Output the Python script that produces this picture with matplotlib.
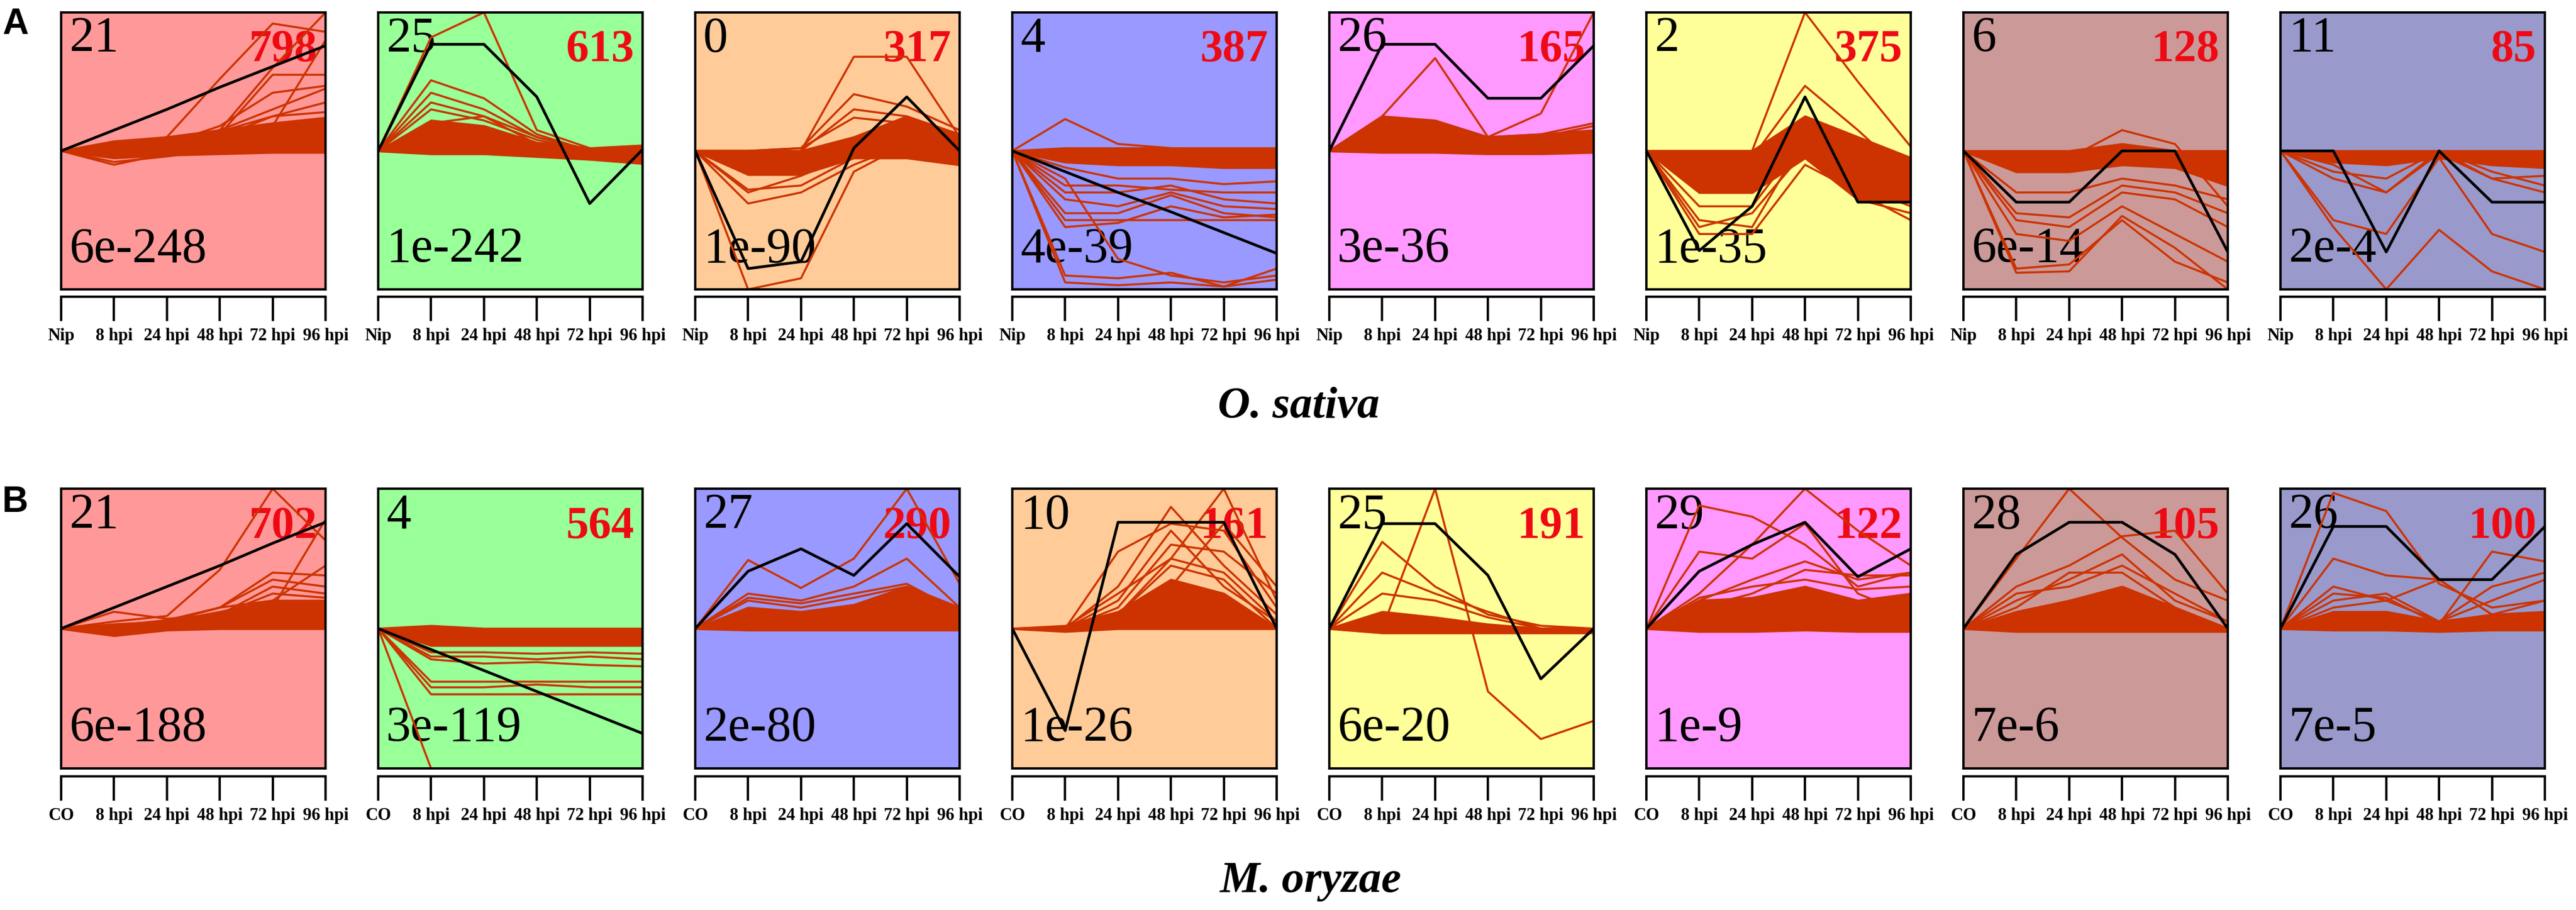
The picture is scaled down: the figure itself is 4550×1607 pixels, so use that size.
import matplotlib
matplotlib.use('Agg')
import matplotlib.pyplot as plt

plt.rcParams['font.family'] = ['Liberation Serif', 'DejaVu Serif']

# x axis time points
times_a = ['Nip', '8 hpi', '24 hpi', '48 hpi', '72 hpi', '96 hpi']
times_b = ['CO', '8 hpi', '24 hpi', '48 hpi', '72 hpi', '96 hpi']

# ---- row A: O. sativa profiles ----
a_ids = ['21', '25', '0', '4', '26', '2', '6', '11']
a_counts = ['798', '613', '317', '387', '165', '375', '128', '85']
a_pvals = ['6e-248', '1e-242', '1e-90', '4e-39', '3e-36', '1e-35', '6e-14', '2e-4']
a_colors = ['#ff9999', '#99ff99', '#ffcc99', '#9999ff', '#ff99ff', '#ffff99', '#cc9999', '#9999cc']

# model profiles (black lines)
a_models = [
    [0, 0.15, 0.30, 0.46, 0.61, 0.76],
    [0, 0.77, 0.77, 0.39, -0.38, 0.01],
    [0, -0.85, -0.80, 0.02, 0.39, 0.0],
    [0, -0.15, -0.30, -0.44, -0.59, -0.74],
    [0, 0.77, 0.77, 0.38, 0.38, 0.76],
    [0, -0.72, -0.40, 0.39, -0.37, -0.37],
    [0, -0.37, -0.37, 0.0, 0.0, -0.73],
    [0, 0.0, -0.73, 0.0, -0.37, -0.37],
]

# envelope of the dense bundle of gene lines
a_band_hi = [
    [0, 0.07, 0.10, 0.15, 0.20, 0.24],
    [0, 0.22, 0.18, 0.06, 0.02, 0.04],
    [0, 0.0, 0.0, 0.10, 0.25, 0.12],
    [0, 0.02, 0.02, 0.02, 0.02, 0.02],
    [0, 0.25, 0.22, 0.10, 0.12, 0.15],
    [0, 0.0, 0.0, 0.25, 0.10, -0.05],
    [0, 0.0, 0.0, 0.05, 0.0, 0.0],
    [0, 0.0, 0.0, 0.0, 0.0, 0.0],
]
a_band_lo = [
    [0, -0.05, -0.03, -0.02, -0.01, -0.01],
    [0, -0.02, -0.02, -0.04, -0.06, -0.09],
    [0, -0.17, -0.17, -0.05, -0.05, -0.10],
    [0, -0.08, -0.10, -0.10, -0.12, -0.12],
    [0, -0.01, -0.01, -0.02, -0.02, -0.01],
    [0, -0.30, -0.30, -0.05, -0.35, -0.37],
    [0, -0.15, -0.15, -0.10, -0.12, -0.25],
    [0, -0.08, -0.10, -0.05, -0.10, -0.12],
]

# individual gene lines (orange)
a1_genes = [
    [0, -0.10, -0.02, 0.0, 0.02, 0.05],
    [0, 0.02, 0.10, 0.52, 0.92, 0.86],
    [0, 0.03, 0.08, 0.15, 0.60, 1.0],
    [0, 0.03, 0.06, 0.12, 0.55, 0.55],
    [0, 0.02, 0.05, 0.18, 0.42, 0.47],
    [0, 0.03, 0.07, 0.15, 0.30, 0.45],
    [0, 0.02, 0.05, 0.10, 0.25, 0.35],
    [0, 0.01, 0.04, 0.14, 0.25, 0.28],
    [0, 0.02, 0.06, 0.10, 0.18, 0.80],
    [0, -0.08, -0.04, 0.01, 0.03, 0.06],
]
a2_genes = [
    [0, 0.82, 1.0, 0.15, 0.02, 0.0],
    [0, 0.51, 0.38, 0.12, 0.0, -0.02],
    [0, 0.35, 0.25, 0.10, 0.0, -0.03],
    [0, 0.30, 0.22, 0.08, 0.0, -0.04],
    [0, 0.42, 0.30, 0.10, 0.01, -0.02],
    [0, 0.20, 0.25, 0.05, -0.02, -0.05],
]
a3_genes = [
    [0, -1.0, -0.92, -0.15, 0.05, 0.02],
    [0, -0.38, -0.30, -0.10, 0.05, 0.05],
    [0, -0.28, -0.25, -0.05, 0.10, 0.08],
    [0, -0.30, -0.18, -0.02, 0.08, 0.10],
    [0, 0.0, 0.0, 0.68, 0.68, 0.10],
    [0, 0.0, 0.02, 0.41, 0.32, 0.15],
    [0, 0.0, 0.02, 0.24, 0.20, 0.12],
    [0, -0.05, 0.0, 0.30, 0.25, 0.10],
]
a4_genes = [
    [0, 0.23, 0.05, 0.02, 0.0, 0.0],
    [0, -0.25, -0.25, -0.28, -0.30, -0.30],
    [0, -0.30, -0.30, -0.25, -0.35, -0.38],
    [0, -0.35, -0.40, -0.30, -0.40, -0.42],
    [0, -0.45, -0.45, -0.32, -0.45, -0.48],
    [0, -0.50, -0.50, -0.50, -0.50, -0.50],
    [0, -0.55, -0.52, -0.40, -0.48, -0.46],
    [0, -0.90, -0.92, -0.88, -0.98, -0.85],
    [0, -0.95, -0.97, -0.95, -0.98, -0.93],
    [0, -0.20, -0.78, -0.90, -0.95, -0.90],
    [0, -0.12, -0.20, -0.20, -0.24, -0.22],
]
a5_genes = [
    [0, 0.25, 0.67, 0.10, 0.27, 1.0],
    [0, 0.20, 0.18, 0.10, 0.12, 0.20],
    [0, 0.15, 0.20, 0.08, 0.10, 0.18],
]
a6_genes = [
    [0, 0.0, 0.0, 1.0, 0.50, 0.03],
    [0, -0.05, -0.05, 0.47, 0.15, -0.20],
    [0, -0.50, -0.55, 0.10, -0.35, -0.45],
    [0, -0.60, -0.60, -0.10, -0.30, -0.50],
    [0, -0.55, -0.45, 0.0, -0.25, -0.40],
    [0, -0.40, -0.40, 0.10, -0.20, -0.30],
]
a7_genes = [
    [0, -0.05, -0.05, 0.15, 0.05, -0.40],
    [0, -0.88, -0.87, -0.47, -0.70, -1.0],
    [0, -0.85, -0.82, -0.50, -0.80, -0.95],
    [0, -0.50, -0.55, -0.30, -0.35, -0.55],
    [0, -0.45, -0.48, -0.25, -0.30, -0.45],
    [0, -0.30, -0.30, -0.20, -0.25, -0.35],
    [0, -0.60, -0.65, -0.40, -0.60, -0.80],
]
a8_genes = [
    [0, -0.50, -0.60, -0.05, -0.60, -0.73],
    [0, -0.55, -1.0, -0.57, -0.87, -1.0],
    [0, -0.10, -0.30, 0.0, -0.20, -0.30],
    [0, -0.15, -0.20, 0.0, -0.15, -0.25],
    [0, -0.20, -0.30, -0.02, -0.20, -0.18],
]
a_genes = [a1_genes, a2_genes, a3_genes, a4_genes, a5_genes, a6_genes, a7_genes, a8_genes]

# ---- row B: M. oryzae profiles ----
b_ids = ['21', '4', '27', '10', '25', '29', '28', '26']
b_counts = ['702', '564', '290', '161', '191', '122', '105', '100']
b_pvals = ['6e-188', '3e-119', '2e-80', '1e-26', '6e-20', '1e-9', '7e-6', '7e-5']
b_colors = ['#ff9999', '#99ff99', '#9999ff', '#ffcc99', '#ffff99', '#ff99ff', '#cc9999', '#9999cc']

b_models = [
    [0, 0.15, 0.30, 0.45, 0.61, 0.76],
    [0, -0.15, -0.30, -0.45, -0.60, -0.75],
    [0, 0.41, 0.57, 0.38, 0.75, 0.37],
    [0, -0.73, 0.76, 0.76, 0.76, 0.0],
    [0, 0.75, 0.75, 0.38, -0.36, 0.0],
    [0, 0.41, 0.60, 0.76, 0.37, 0.57],
    [0, 0.53, 0.76, 0.76, 0.53, 0.0],
    [0, 0.73, 0.73, 0.35, 0.35, 0.73],
]
b_band_hi = [
    [0, 0.03, 0.05, 0.12, 0.20, 0.20],
    [0, 0.02, 0.0, 0.0, 0.0, 0.0],
    [0, 0.15, 0.12, 0.17, 0.30, 0.15],
    [0, 0.02, 0.12, 0.35, 0.25, 0.0],
    [0, 0.12, 0.08, 0.03, 0.0, 0.0],
    [0, 0.20, 0.22, 0.30, 0.20, 0.25],
    [0, 0.12, 0.20, 0.30, 0.15, 0.0],
    [0, 0.12, 0.12, 0.05, 0.10, 0.12],
]
b_band_lo = [
    [0, -0.05, -0.01, 0.0, 0.0, 0.0],
    [0, -0.12, -0.12, -0.12, -0.12, -0.12],
    [0, -0.01, -0.01, -0.01, -0.01, -0.01],
    [0, -0.02, 0.0, 0.0, 0.0, 0.0],
    [0, -0.03, -0.03, -0.03, -0.03, -0.03],
    [0, -0.02, -0.02, -0.01, -0.02, -0.02],
    [0, -0.02, -0.02, -0.02, -0.02, -0.02],
    [0, -0.01, -0.01, -0.02, -0.01, -0.01],
]

b1_genes = [
    [0, 0.05, 0.09, 0.42, 1.0, 0.63],
    [0, 0.03, 0.05, 0.10, 0.15, 0.78],
    [0, 0.02, 0.06, 0.15, 0.40, 0.38],
    [0, 0.02, 0.05, 0.15, 0.35, 0.30],
    [0, 0.12, 0.07, 0.10, 0.30, 0.25],
    [0, 0.02, 0.04, 0.10, 0.25, 0.22],
    [0, 0.02, 0.05, 0.15, 0.20, 0.45],
]
b2_genes = [
    [0, -1.0, -1.0, -1.0, -1.0, -1.0],
    [0, -0.20, -0.20, -0.22, -0.20, -0.22],
    [0, -0.22, -0.25, -0.24, -0.26, -0.27],
    [0, -0.38, -0.38, -0.38, -0.38, -0.38],
    [0, -0.42, -0.42, -0.40, -0.42, -0.42],
    [0, -0.47, -0.47, -0.47, -0.47, -0.47],
    [0, -0.17, -0.17, -0.18, -0.17, -0.18],
]
b3_genes = [
    [0, 0.49, 0.29, 0.50, 1.0, 0.32],
    [0, 0.25, 0.20, 0.30, 0.50, 0.15],
    [0, 0.22, 0.18, 0.25, 0.32, 0.12],
    [0, 0.20, 0.15, 0.22, 0.30, 0.10],
]
b4_genes = [
    [0, 0.0, 0.10, 0.50, 1.0, 0.20],
    [0, 0.0, 0.55, 0.75, 0.70, 0.15],
    [0, 0.0, 0.30, 0.87, 0.45, 0.10],
    [0, 0.0, 0.20, 0.70, 0.30, 0.05],
    [0, 0.0, 0.15, 0.60, 0.55, 0.25],
    [0, 0.01, 0.25, 0.50, 0.40, 0.05],
    [0, 0.0, 0.10, 0.45, 0.35, 0.0],
    [0, 0.0, 0.08, 0.30, 0.75, 0.30],
]
b5_genes = [
    [0, 0.0, 1.0, -0.45, -0.79, -0.66],
    [0, 0.62, 0.30, 0.10, 0.02, 0.0],
    [0, 0.40, 0.25, 0.12, 0.0, 0.0],
    [0, 0.25, 0.20, 0.08, 0.0, -0.02],
]
b6_genes = [
    [0, 0.25, 0.60, 1.0, 0.70, 0.45],
    [0, 0.88, 0.80, 0.60, 0.30, 0.40],
    [0, 0.55, 0.50, 0.75, 0.25, 0.10],
    [0, 0.20, 0.35, 0.48, 0.35, 0.40],
    [0, 0.15, 0.25, 0.42, 0.38, 0.38],
    [0, 0.22, 0.30, 0.35, 0.28, 0.30],
]
b7_genes = [
    [0, 0.50, 1.0, 0.65, 0.35, 0.20],
    [0, 0.30, 0.45, 0.66, 0.70, 0.25],
    [0, 0.20, 0.35, 0.53, 0.20, 0.05],
    [0, 0.25, 0.30, 0.45, 0.25, 0.05],
    [0, 0.15, 0.40, 0.40, 0.15, 0.0],
]
b8_genes = [
    [0, 0.97, 0.84, 0.32, 0.15, 0.20],
    [0, 0.50, 0.38, 0.35, 0.10, 0.05],
    [0, 0.25, 0.22, 0.03, 0.55, 0.48],
    [0, 0.20, 0.25, 0.05, 0.30, 0.40],
    [0, 0.15, 0.20, 0.05, 0.20, 0.35],
    [0, 0.30, 0.20, 0.35, 0.10, 0.20],
]
b_genes = [b1_genes, b2_genes, b3_genes, b4_genes, b5_genes, b6_genes, b7_genes, b8_genes]

gene_color = '#cc3300'

W, H = 4550, 1608
fig = plt.figure(figsize=(W / 100, H / 100), dpi=100)


def px_rect(left, top, width, height):
    # pixel box (from top-left) -> figure fraction rect
    return [left / W, 1 - (top + height) / H, width / W, height / H]


def draw_row(top, height, tick_top, times, ids, counts, pvals, colors, models, band_hi, band_lo, genes):
    x = list(range(len(times)))
    for i in range(8):
        left = 108 + 560 * i
        ax = fig.add_axes(px_rect(left, top, 467, height))
        ax.set_facecolor(colors[i])
        ax.set_xlim(0, 5)
        ax.set_ylim(-1, 1)
        ax.set_xticks([])
        ax.set_yticks([])
        for s in ax.spines.values():
            s.set_linewidth(3)
            s.set_zorder(5)

        ax.text(0.03, 0.862, ids[i], transform=ax.transAxes, fontsize=63,
                color='black', va='baseline', ha='left', zorder=1.5)
        ax.text(0.968, 0.826, counts[i], transform=ax.transAxes, fontsize=58,
                fontweight='bold', color='#ee0a14', va='baseline',
                ha='right', zorder=1.5)
        ax.text(0.03, 0.102, pvals[i], transform=ax.transAxes, fontsize=63,
                color='black', va='baseline', ha='left', zorder=1.5)

        ax.fill_between(x, band_lo[i], band_hi[i], color=gene_color, lw=3, zorder=2)
        for g in genes[i]:
            ax.plot(x, g, color=gene_color, lw=2.6, zorder=2.5)
        ax.plot(x, models[i], color='black', lw=3.5, zorder=3)

        # bracket-style time axis below the box
        tx = fig.add_axes(px_rect(left, tick_top, 467, 43))
        tx.set_xlim(0, 5)
        tx.set_ylim(0, 1)
        tx.patch.set_visible(False)
        for side in ['left', 'right', 'bottom']:
            tx.spines[side].set_visible(False)
        tx.spines['top'].set_linewidth(3)
        tx.vlines(x, 0, 1, color='black', lw=3, clip_on=False)
        tx.set_yticks([])
        tx.set_xticks(x)
        tx.set_xticklabels(times, fontweight='bold', fontsize=22)
        tx.tick_params(axis='x', length=0, pad=8)


draw_row(23, 489, 525, times_a, a_ids, a_counts, a_pvals, a_colors,
         a_models, a_band_hi, a_band_lo, a_genes)
draw_row(864, 494, 1372, times_b, b_ids, b_counts, b_pvals, b_colors,
         b_models, b_band_hi, b_band_lo, b_genes)

fig.text(2294 / W, 1 - 719 / H, 'O. sativa', fontsize=57,
         fontweight='bold', style='italic', ha='center', va='center')
fig.text(2314 / W, 1 - 1557 / H, 'M. oryzae', fontsize=57,
         fontweight='bold', style='italic', ha='center', va='center')

fig.text(4 / W, 1 - 43 / H, 'A', family=['Liberation Sans', 'DejaVu Sans'], fontsize=46,
         fontweight='bold', ha='left', va='center')
fig.text(4 / W, 1 - 887 / H, 'B', family=['Liberation Sans', 'DejaVu Sans'], fontsize=46,
         fontweight='bold', ha='left', va='center')

fig.savefig('out.png', dpi=100, facecolor='white')
